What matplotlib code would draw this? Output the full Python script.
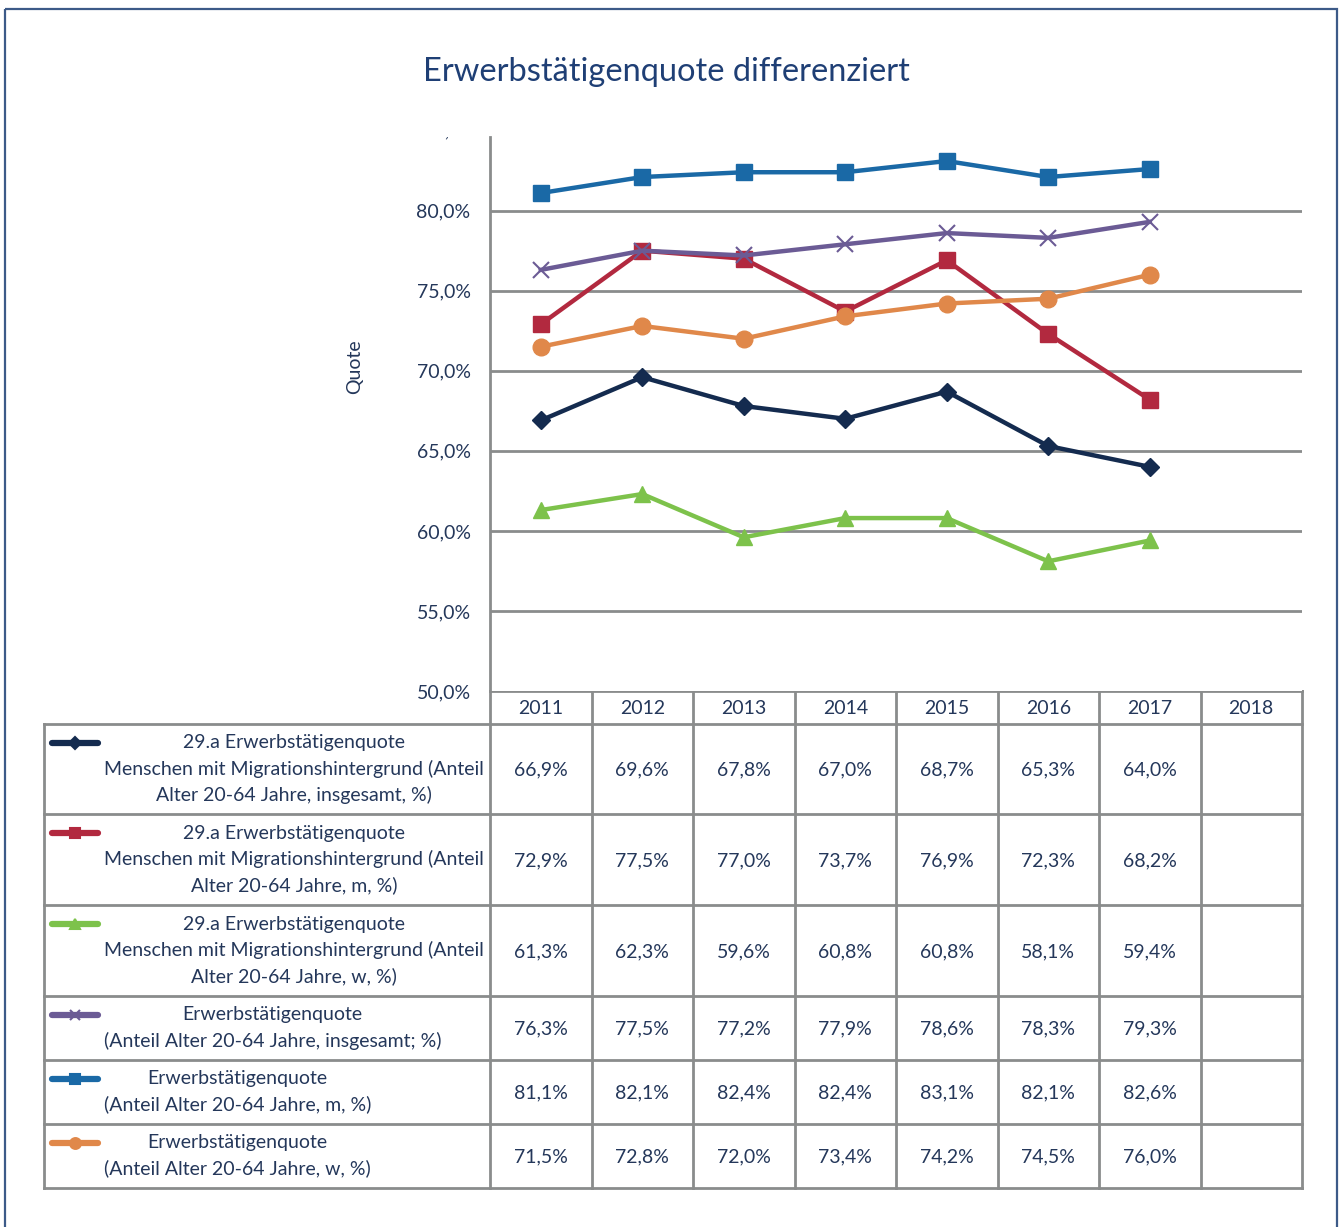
# Erwerbstätigenquote differenziert - Liniendiagramm mit Datentabelle
import matplotlib
matplotlib.use('Agg')
import matplotlib.pyplot as plt
from matplotlib.lines import Line2D
from matplotlib.patches import Rectangle
from matplotlib.transforms import Bbox, TransformedBbox, blended_transform_factory

plt.rcParams['font.family'] = ['Lato', 'DejaVu Sans']

# Daten
jahre = ['2011', '2012', '2013', '2014', '2015', '2016', '2017', '2018']
migr_gesamt = [66.9, 69.6, 67.8, 67.0, 68.7, 65.3, 64.0]
migr_m = [72.9, 77.5, 77.0, 73.7, 76.9, 72.3, 68.2]
migr_w = [61.3, 62.3, 59.6, 60.8, 60.8, 58.1, 59.4]
gesamt = [76.3, 77.5, 77.2, 77.9, 78.6, 78.3, 79.3]
gesamt_m = [81.1, 82.1, 82.4, 82.4, 83.1, 82.1, 82.6]
gesamt_w = [71.5, 72.8, 72.0, 73.4, 74.2, 74.5, 76.0]

labels = [
    '29.a Erwerbstätigenquote\nMenschen mit Migrationshintergrund (Anteil\nAlter 20-64 Jahre, insgesamt, %)',
    '29.a Erwerbstätigenquote\nMenschen mit Migrationshintergrund (Anteil\nAlter 20-64 Jahre, m, %)',
    '29.a Erwerbstätigenquote\nMenschen mit Migrationshintergrund (Anteil\nAlter 20-64 Jahre, w, %)',
    'Erwerbstätigenquote\n(Anteil Alter 20-64 Jahre, insgesamt; %)',
    'Erwerbstätigenquote\n(Anteil Alter 20-64 Jahre, m, %)',
    'Erwerbstätigenquote\n(Anteil Alter 20-64 Jahre, w, %)',
]
serien = [migr_gesamt, migr_m, migr_w, gesamt, gesamt_m, gesamt_w]
farben = ['#142b4f', '#b2293f', '#7dc24b', '#6b5b95', '#1a69a6', '#e0884a']
marker = ['D', 's', '^', 'x', 's', 'o']
msize = [9, 12, 11, 12, 12, 12]

textfarbe = '#24375a'
gitter = '#8a8c8c'
fs = 14

W, H = 1339, 1227
fig = plt.figure(figsize=(W / 100, H / 100), dpi=100)

# Rahmen um die ganze Grafik
bg = fig.add_axes([0, 0, 1, 1])
bg.set_xlim(0, W)
bg.set_ylim(H, 0)
bg.axis('off')
bg.add_patch(Rectangle((5, 9), 1332, 1240, fill=False, ec='#3c5a88', lw=1.6))

fig.text(666 / W, 1 - 72 / H, 'Erwerbstätigenquote differenziert', ha='center',
         va='center', fontsize=23.5, color='#1f3f75')

# Diagrammbereich
x0, x1 = 490, 1302
y_top, y_bot = 137, 691
ax = fig.add_axes([x0 / W, 1 - y_bot / H, (x1 - x0) / W, (y_bot - y_top) / H])
ax.set_xlim(0, len(jahre))
ymin, ymax = 50, 84.6
ax.set_ylim(ymin, ymax)
ax.set_yticks([50, 55, 60, 65, 70, 75, 80])
ax.set_yticklabels([f'{v:.1f}%'.replace('.', ',') for v in ax.get_yticks()],
                   fontsize=fs, color=textfarbe)
ax.tick_params(axis='y', length=0, pad=14)
ax.set_xticks([])
for s in ['top', 'right', 'bottom']:
    ax.spines[s].set_visible(False)
ax.spines['left'].set_color(gitter)
ax.spines['left'].set_linewidth(2)
for v in [55, 60, 65, 70, 75, 80]:
    ax.axhline(v, color=gitter, lw=2, zorder=1)
ax.set_ylabel('Quote', fontsize=fs, color=textfarbe)
ax.yaxis.set_label_coords((363 - x0) / (x1 - x0), (y_bot - 367) / (y_bot - y_top))

# abgeschnittene 85-Prozent-Beschriftung am oberen Rand
t85 = ax.text(-14 / (x1 - x0), 85, '85,0%', fontsize=fs, color=textfarbe,
              ha='right', va='center',
              transform=blended_transform_factory(ax.transAxes, ax.transData))
t85.set_clip_box(TransformedBbox(Bbox([[0, 0], [1, 1 - y_top / H]]), fig.transFigure))
t85.set_clip_on(True)

xpos = [i + 0.5 for i in range(len(migr_gesamt))]
for werte, c, m, ms in zip(serien, farben, marker, msize):
    ax.plot(xpos, werte, color=c, lw=3.2, marker=m, markersize=ms,
            markeredgewidth=1.5 if m == 'x' else 1, markeredgecolor=c,
            zorder=3, clip_on=False)

# Datentabelle
col_w = (x1 - x0) / len(jahre)
tab_l = 44
kopf = (691, 724)
zeilen = [(724, 814), (814, 905), (905, 996), (996, 1060), (1060, 1124), (1124, 1188)]
lw_t = 2

bg.plot([x0, x1], [kopf[0], kopf[0]], color=gitter, lw=lw_t)
bg.plot([tab_l, x1], [kopf[1], kopf[1]], color=gitter, lw=lw_t)
for i in range(len(jahre) + 1):
    bg.plot([x0 + i * col_w] * 2, [kopf[0], zeilen[-1][1]], color=gitter, lw=lw_t)
bg.plot([tab_l, tab_l], [kopf[1], zeilen[-1][1]], color=gitter, lw=lw_t)
for j, jahr in enumerate(jahre):
    bg.text(x0 + (j + 0.5) * col_w, sum(kopf) / 2 + 1, jahr, ha='center', va='center',
            fontsize=fs, color=textfarbe)

for (ya, yb), lab, werte, c, m, ms in zip(zeilen, labels, serien, farben, marker, msize):
    bg.plot([tab_l, x1], [yb, yb], color=gitter, lw=lw_t)
    ym = (ya + yb) / 2
    n = lab.count('\n') + 1
    erste = ym - (n - 1) * 26.5 / 2
    bg.add_line(Line2D([52, 98], [erste, erste], color=c, lw=4.5, solid_capstyle='round'))
    bg.add_line(Line2D([75], [erste], color=c, marker=m, markersize=ms * 0.65,
                       markeredgecolor=c, markeredgewidth=1.5))
    bg.text(104, ym, lab, ha='left', va='center', multialignment='center',
            fontsize=fs, color=textfarbe, linespacing=1.55)
    for j, v in enumerate(werte):
        bg.text(x0 + (j + 0.5) * col_w, ym + 1, f'{v:.1f}%'.replace('.', ','),
                ha='center', va='center', fontsize=fs, color=textfarbe)

fig.savefig('out.png', dpi=100)
